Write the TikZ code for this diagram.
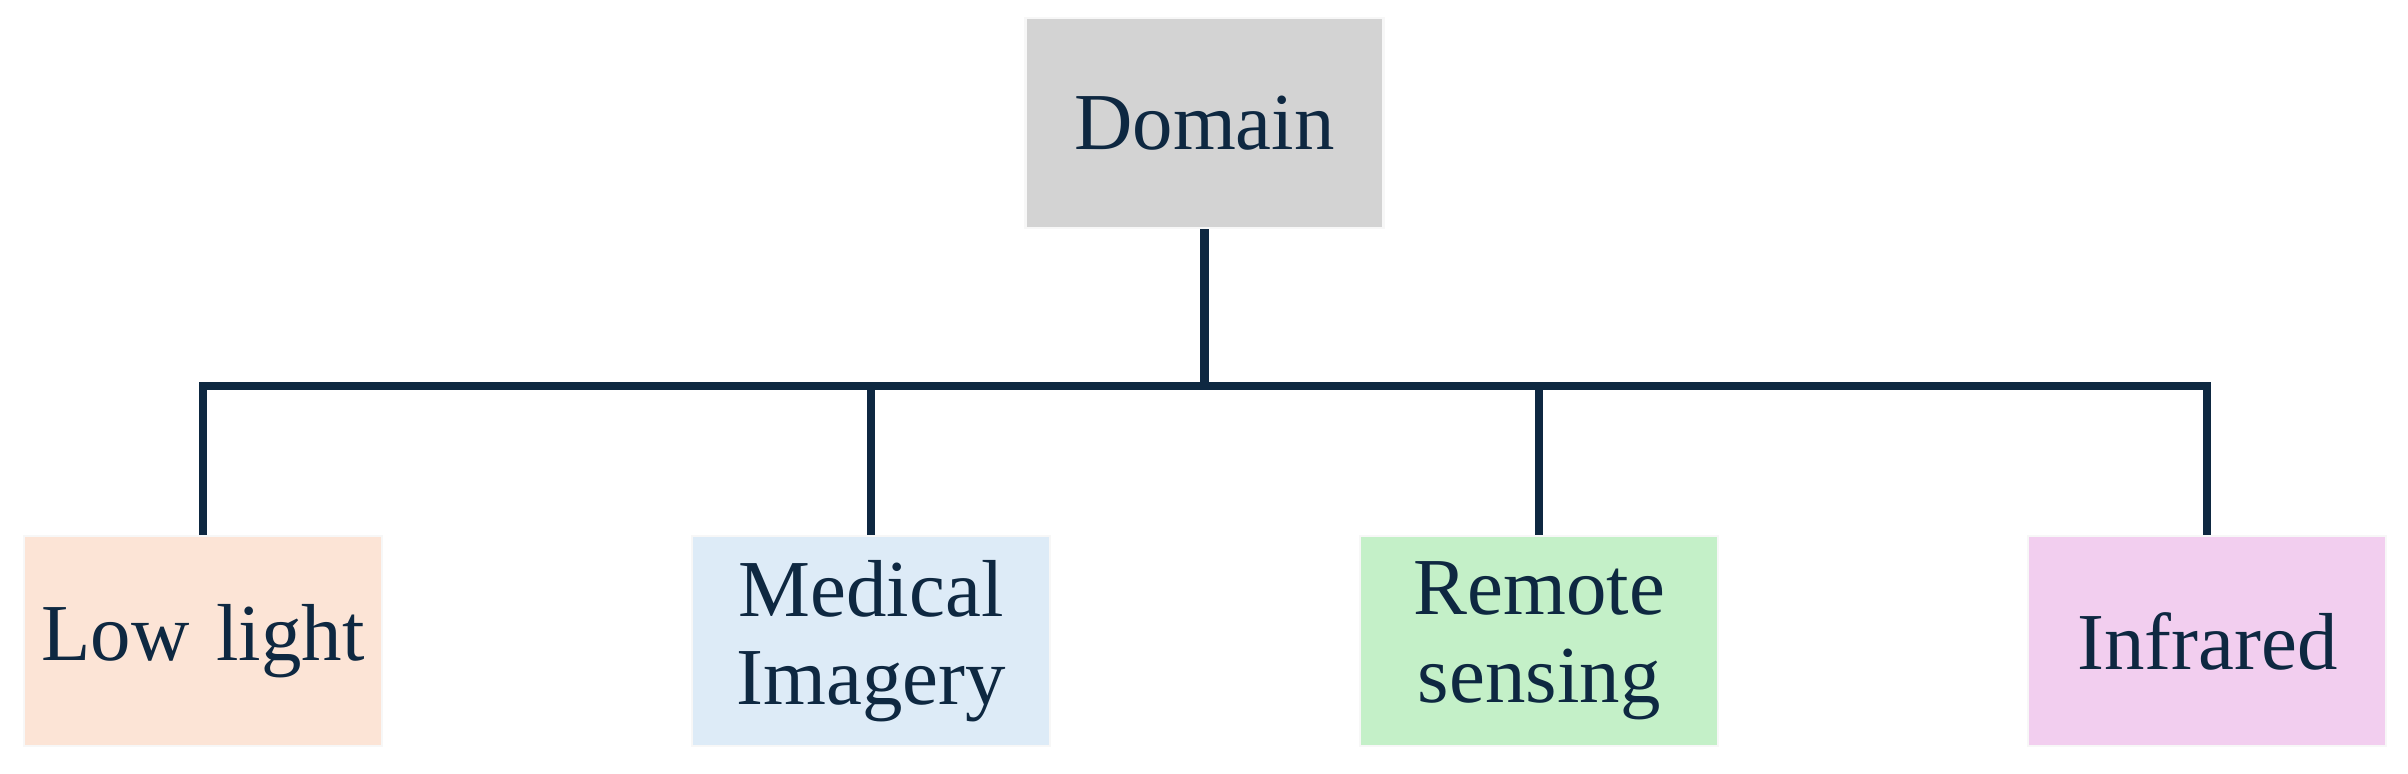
\documentclass[tikz,border=0pt]{standalone}
\usepackage{fontspec}
\setmainfont{Liberation Serif}
\usepackage{tikz}
\usetikzlibrary{calc,positioning}
\definecolor{navy}{HTML}{0E2841}
\definecolor{greybox}{HTML}{D3D3D3}
\definecolor{peach}{HTML}{FCE4D6}
\definecolor{skyblue}{HTML}{DDEBF7}
\definecolor{mint}{HTML}{C4F0C8}
\definecolor{orchid}{HTML}{F2CEEF}
\tikzset{
    block/.style={rectangle, draw=white!70!black!10, line width=0.6pt, minimum width=3.58cm, minimum height=2.1cm, text centered, text width=3.4cm, text=navy, font=\fontsize{23}{25}\selectfont, inner sep=0pt},
    line/.style={draw=navy, line width=2.3pt},
}
\begin{document}
\begin{tikzpicture}
        [node distance=3.08cm]

        \fill[white] (0,0) rectangle (24.08,-7.74);

        \node[block, fill=greybox] (domain) at (12.045,-1.23) {Domain};

        \node[block, fill=peach] (low) at (2.03,-6.41) {Low light};
        \node[block, fill=skyblue, right=of low] (med) {Medical\\Imagery};
        \node[block, fill=mint, right=of med] (rem) {Remote\\sensing};
        \node[block, fill=orchid, right=of rem] (ir) {Infrared};

        \coordinate (bus) at ($(domain.south)+(0,-1.57)$);
        \draw[line] (domain.south) -- (bus);
        \foreach \leaf in {low,med,rem,ir}
            \draw[line] (bus) -| (\leaf.north);

    \end{tikzpicture}
\end{document}
